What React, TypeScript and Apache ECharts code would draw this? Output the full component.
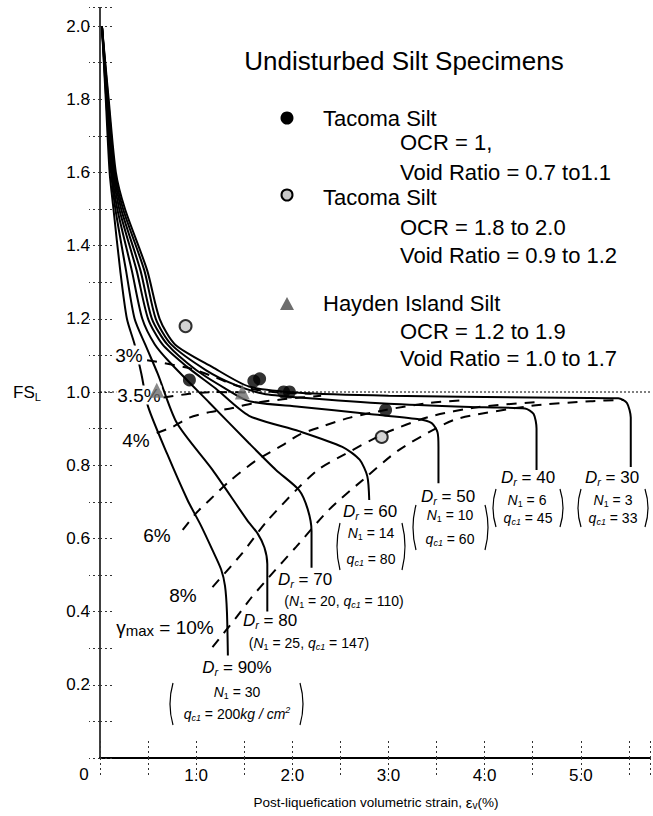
import React, { useEffect, useRef } from 'react';
import * as echarts from 'echarts';

// ---------- data ----------
const X_MAX = 5.72;
const Y_MAX = 2.05;

const dr90 = [[0.02,2.0],[0.06,1.8],[0.10,1.6],[0.14,1.5],[0.21,1.333],[0.28,1.2],[0.36,1.13],[0.43,1.05],[0.50,0.96],[0.70,0.83],[0.91,0.705],[1.05,0.635],[1.17,0.568],[1.26,0.515],[1.30,0.47],[1.32,0.40],[1.33,0.28]];
const dr80 = [[0.02,2.0],[0.065,1.8],[0.115,1.6],[0.16,1.5],[0.27,1.333],[0.36,1.2],[0.47,1.13],[0.60,1.05],[0.80,0.915],[1.17,0.787],[1.53,0.65],[1.64,0.613],[1.71,0.575],[1.74,0.53],[1.74,0.40]];
const dr70 = [[0.02,2.0],[0.07,1.8],[0.125,1.6],[0.18,1.5],[0.33,1.333],[0.44,1.2],[0.57,1.13],[0.73,1.08],[1.14,0.97],[1.55,0.86],[1.83,0.787],[2.07,0.732],[2.16,0.68],[2.2,0.62],[2.2,0.52]];
const dr60 = [[0.02,2.0],[0.075,1.8],[0.135,1.6],[0.20,1.5],[0.38,1.333],[0.50,1.2],[0.65,1.13],[0.90,1.07],[1.2,1.01],[1.55,0.935],[2.07,0.893],[2.52,0.85],[2.70,0.815],[2.78,0.77],[2.80,0.705]];
const dr50 = [[0.02,2.0],[0.08,1.8],[0.145,1.6],[0.22,1.5],[0.42,1.333],[0.54,1.2],[0.70,1.13],[1.0,1.06],[1.3,1.01],[1.55,0.975],[2.07,0.96],[2.8,0.94],[3.3,0.926],[3.45,0.915],[3.51,0.89],[3.52,0.85],[3.52,0.751]];
const dr40 = [[0.02,2.0],[0.085,1.8],[0.155,1.6],[0.24,1.5],[0.46,1.333],[0.58,1.2],[0.74,1.13],[1.1,1.06],[1.4,1.02],[1.7,0.995],[2.07,0.985],[3.0,0.968],[4.0,0.958],[4.42,0.955],[4.51,0.94],[4.54,0.90],[4.54,0.787]];
const dr30 = [[0.02,2.0],[0.09,1.8],[0.165,1.6],[0.26,1.5],[0.49,1.333],[0.62,1.2],[0.78,1.13],[1.17,1.068],[1.55,1.015],[2.07,0.998],[3.0,0.99],[4.5,0.985],[5.39,0.983],[5.48,0.97],[5.52,0.93],[5.52,0.795]];

const gamma3 = [[0.49,1.087],[0.93,1.065],[1.2,1.04],[1.45,1.015],[1.8,1.0],[2.2,0.995]];
const gamma35 = [[0.66,0.985],[0.93,0.995],[1.2,1.0],[1.6,0.998]];
const gamma4 = [[0.59,0.888],[0.75,0.904],[0.93,0.93],[1.14,0.945],[1.38,0.956],[1.6,0.97],[1.9,0.98],[2.3,0.99]];
const gamma6 = [[0.86,0.623],[1.0,0.669],[1.14,0.705],[1.35,0.757],[1.63,0.814],[1.9,0.855],[2.07,0.883],[2.3,0.905],[2.6,0.93],[2.97,0.951],[3.42,0.97],[3.8,0.978]];
const gamma8 = [[1.17,0.467],[1.48,0.56],[1.73,0.645],[2.07,0.74],[2.28,0.79],[2.49,0.822],[2.97,0.888],[3.42,0.932],[3.94,0.959],[4.53,0.972]];
const gamma10 = [[1.17,0.303],[1.42,0.385],[1.58,0.44],[1.76,0.495],[2.04,0.577],[2.38,0.678],[2.77,0.768],[3.1,0.84],[3.49,0.9],[3.73,0.928],[4.48,0.962],[5.1,0.975],[5.45,0.978]];

const fsOne = [[0, 1.0], [X_MAX, 1.0]];

const tacomaOCR1 = [[0.93,1.033],[1.6,1.03],[1.66,1.036],[1.91,1.0],[1.97,1.0],[2.97,0.951]];
const tacomaOCR18 = [[0.89,1.18],[2.93,0.877]];
const haydenIsland = [[0.59,1.005],[1.48,1.0]];

const legendTitle = 'Undisturbed Silt Specimens';
const legendLines = [
  'Tacoma Silt', 'OCR = 1,', 'Void Ratio = 0.7 to1.1',
  'Tacoma Silt', 'OCR = 1.8 to 2.0', 'Void Ratio = 0.9 to 1.2',
  'Hayden Island Silt', 'OCR = 1.2 to 1.9', 'Void Ratio = 1.0 to 1.7',
];
const drLabels = ['90%', '80', '70', '60', '50', '40', '30'];
const n1Labels = ['30', '25', '20', '14', '10', '6', '3'];
const qc1Labels = ['200', '147', '110', '80', '60', '45', '33'];
const gammaLabels = ['3%', '3.5%', '4%', '6%', '8%', '10%'];

const FONT = '"Liberation Sans", Arial, Helvetica, sans-serif';

function solid(data: number[][]) {
  return { type: 'line', data, showSymbol: false, smooth: 0.25, lineStyle: { color: '#000', width: 2 }, z: 3, silent: true };
}
function dashed(data: number[][]) {
  return { type: 'line', data, showSymbol: false, smooth: 0.25, lineStyle: { color: '#000', width: 2, type: [10, 8] }, z: 3, silent: true };
}

const sub = { fontSize: 11, fontFamily: FONT, fill: '#000', verticalAlign: 'bottom', lineHeight: 12, fontStyle: 'italic' };

function txt(text: string, x: number, y: number, size: number, align = 'left', extra: any = {}) {
  return { type: 'text', x, y, style: { text, fontSize: size, fontFamily: FONT, fill: '#000', align, verticalAlign: 'middle', ...extra }, z: 10 };
}
function rtxt(text: string, x: number, y: number, rich: any, align = 'center') {
  return { type: 'text', x, y, style: { text, align, verticalAlign: 'middle', rich, fontFamily: FONT, fill: '#000' }, z: 10 };
}
const whiteBg = { backgroundColor: '#fff', padding: [0, 1] };
const drRich = {
  d: { fontSize: 17, fontStyle: 'italic', fontFamily: FONT, fill: '#000', lineHeight: 20 },
  s: { ...sub, fontSize: 11, lineHeight: 13 },
  n: { fontSize: 17, fontFamily: FONT, fill: '#000', lineHeight: 20 },
};
const nRich = {
  d: { fontSize: 14, fontStyle: 'italic', fontFamily: FONT, fill: '#000', lineHeight: 17 },
  s: { ...sub, fontSize: 9, lineHeight: 11, fontStyle: 'normal' },
  si: { ...sub, fontSize: 9, lineHeight: 11 },
  n: { fontSize: 14, fontFamily: FONT, fill: '#000', lineHeight: 17 },
  i: { fontSize: 14, fontStyle: 'italic', fontFamily: FONT, fill: '#000', lineHeight: 17 },
  sup: { fontSize: 9, fontStyle: 'italic', fontFamily: FONT, fill: '#000', verticalAlign: 'top', lineHeight: 11 },
};
function paren(xl: number, xr: number, yt: number, yb: number) {
  const mid = (yt + yb) / 2;
  const st = { stroke: '#000', lineWidth: 1.2, fill: 'none' };
  return [
    { type: 'bezierCurve', shape: { x1: xl + 3, y1: yt, cpx1: xl - 3, cpy1: mid, x2: xl + 3, y2: yb }, style: st, z: 10 },
    { type: 'bezierCurve', shape: { x1: xr - 3, y1: yt, cpx1: xr + 3, cpy1: mid, x2: xr - 3, y2: yb }, style: st, z: 10 },
  ];
}
const drText = (v: string) => `{d|D}{s|r}{n| = ${v}}`;
const nText = (v: string) => `{d|N}{s|1}{n| = ${v}}`;
const qText = (v: string) => `{d|q}{si|c1}{n| = ${v}}`;

export default function App() {
  const ref = useRef<HTMLDivElement>(null);
  useEffect(() => {
    if (!ref.current) return;
    const chart = echarts.init(ref.current, undefined, { renderer: 'svg' });
    const tickStyle = { color: '#333', width: 1, type: [2, 3] as any };
    const graphic: any[] = [
      txt(legendTitle, 404, 61, 26, 'center'),
      { type: 'circle', shape: { cx: 287, cy: 118, r: 6.5 }, style: { fill: '#000' }, z: 10 },
      txt(legendLines[0], 323, 118, 22),
      txt(legendLines[1], 400, 142, 22),
      txt(legendLines[2], 400, 172, 22),
      { type: 'circle', shape: { cx: 287, cy: 195, r: 5.5 }, style: { fill: '#c8c8c8', stroke: '#000', lineWidth: 2 }, z: 10 },
      txt(legendLines[3], 323, 197, 22),
      txt(legendLines[4], 400, 227, 22),
      txt(legendLines[5], 400, 255, 22),
      { type: 'polygon', shape: { points: [[287, 297], [280, 310], [294, 310]] }, style: { fill: '#6e6e6e' }, z: 10 },
      txt(legendLines[6], 323, 303, 22),
      txt(legendLines[7], 400, 331, 22),
      txt(legendLines[8], 400, 358, 22),
      // gamma labels
      txt(gammaLabels[0], 129, 355, 19, 'center', whiteBg),
      txt(gammaLabels[1], 139, 395, 19, 'center', whiteBg),
      txt(gammaLabels[2], 136, 440, 19, 'center', whiteBg),
      txt(gammaLabels[3], 157, 535, 19, 'center', whiteBg),
      txt(gammaLabels[4], 183, 595, 19, 'center', whiteBg),
      rtxt(`{g|γ}{m|max}{n| = ${gammaLabels[5]}}`, 165, 627, {
        g: { fontSize: 19, fontFamily: FONT, fill: '#000', lineHeight: 22 },
        m: { fontSize: 15, fontFamily: FONT, fill: '#000', verticalAlign: 'bottom', lineHeight: 16 },
        n: { fontSize: 19, fontFamily: FONT, fill: '#000', lineHeight: 22 },
      }),
      // Dr labels
      rtxt(drText(drLabels[0]), 237, 667, drRich),
      rtxt(nText(n1Labels[0]), 237, 692, nRich),
      rtxt(`{d|q}{si|c1}{n| = ${qc1Labels[0]}}{i|kg / cm}{sup|2}`, 237, 714, nRich),
      ...paren(170, 303, 683, 725),
      rtxt(drText(drLabels[1]), 270, 620, drRich),
      rtxt(`{n|(}{d|N}{s|1}{n| = ${n1Labels[1]}, }{d|q}{si|c1}{n| = ${qc1Labels[1]})}`, 309, 643, nRich),
      rtxt(drText(drLabels[2]), 305, 579, drRich),
      rtxt(`{n|(}{d|N}{s|1}{n| = ${n1Labels[2]}, }{d|q}{si|c1}{n| = ${qc1Labels[2]})}`, 344, 601, nRich),
      rtxt(drText(drLabels[3]), 370, 511, drRich),
      rtxt(nText(n1Labels[3]), 371, 533, nRich),
      rtxt(qText(qc1Labels[3]), 371, 559, nRich),
      ...paren(337, 405, 523, 570),
      rtxt(drText(drLabels[4]), 448, 496, drRich),
      rtxt(nText(n1Labels[4]), 450, 515, nRich),
      rtxt(qText(qc1Labels[4]), 450, 539, nRich),
      ...paren(413, 488, 505, 550),
      rtxt(drText(drLabels[5]), 528, 477, drRich),
      rtxt(nText(n1Labels[5]), 527, 500, nRich),
      rtxt(qText(qc1Labels[5]), 528, 518, nRich),
      ...paren(493, 563, 489, 527),
      rtxt(drText(drLabels[6]), 612, 477, drRich),
      rtxt(nText(n1Labels[6]), 613, 500, nRich),
      rtxt(qText(qc1Labels[6]), 613, 518, nRich),
      ...paren(578, 648, 489, 527),
      // axis texts
      rtxt('{a|FS}{b|L}', 27, 392, {
        a: { fontSize: 17, fontFamily: FONT, fill: '#000', lineHeight: 20 },
        b: { fontSize: 11, fontFamily: FONT, fill: '#000', verticalAlign: 'bottom', lineHeight: 12 },
      }),
      txt('0', 84, 774, 17, 'center'),
      rtxt('{a|Post-liquefication volumetric strain, }{e|ε}{b|v}{a|(%)}', 376, 802, {
        a: { fontSize: 13.5, fontFamily: FONT, fill: '#000', lineHeight: 16 },
        e: { fontSize: 15, fontFamily: FONT, fill: '#000', lineHeight: 16 },
        b: { fontSize: 10, fontFamily: FONT, fill: '#000', verticalAlign: 'bottom', lineHeight: 11 },
      }),
    ];

    chart.setOption({
      animation: false,
      backgroundColor: '#fff',
      grid: { left: 100, right: 0.7, top: 7.7, bottom: 58, containLabel: false },
      xAxis: [
        {
          type: 'value', min: 0, max: X_MAX, interval: 0.5, position: 'bottom',
          axisLine: { show: true, lineStyle: { color: '#000', width: 2 } },
          axisTick: { show: true, inside: true, length: 18, lineStyle: tickStyle },
          axisLabel: {
            margin: 9, fontSize: 17, color: '#000', fontFamily: FONT,
            formatter: (v: number) => (v > 0.01 && Math.abs(v - Math.round(v)) < 1e-6 && v < 5.5) ? v.toFixed(1) : '',
          },
          splitLine: { show: false },
        },
        {
          type: 'value', min: 0, max: X_MAX, interval: 0.5, position: 'top',
          axisLine: { show: true, lineStyle: { color: '#000', width: 1.5 } },
          axisTick: { show: true, inside: true, length: 17, lineStyle: tickStyle },
          axisLabel: { show: false }, splitLine: { show: false },
        },
      ],
      yAxis: [
        {
          type: 'value', min: 0, max: Y_MAX, interval: 0.1, position: 'left',
          axisLine: { show: true, lineStyle: { color: '#000', width: 1.5 } },
          axisTick: { show: true, inside: true, length: 14, lineStyle: tickStyle },
          axisLabel: {
            margin: 10, fontSize: 17, color: '#000', fontFamily: FONT,
            formatter: (v: number) => { const k = Math.round(v * 10); return (k > 0 && k % 2 === 0 && k <= 20) ? (k / 10).toFixed(1) : ''; },
          },
          splitLine: { show: false },
        },
        {
          type: 'value', min: 0, max: Y_MAX, interval: 0.1, position: 'right',
          axisLine: { show: false },
          axisTick: { show: true, inside: true, length: 11, lineStyle: tickStyle },
          axisLabel: { show: false }, splitLine: { show: false },
        },
      ],
      series: [
        { type: 'line', data: fsOne, showSymbol: false, lineStyle: { color: '#000', width: 1.2, type: [2, 2] }, z: 2, silent: true },
        solid(dr90), solid(dr80), solid(dr70), solid(dr60), solid(dr50), solid(dr40), solid(dr30),
        dashed(gamma3), dashed(gamma35), dashed(gamma4), dashed(gamma6), dashed(gamma8), dashed(gamma10),
        { type: 'scatter', data: tacomaOCR1, symbol: 'circle', symbolSize: 13, itemStyle: { color: '#000' }, z: 12, silent: true },
        { type: 'scatter', data: tacomaOCR18, symbol: 'circle', symbolSize: 12, itemStyle: { color: '#c8c8c8', borderColor: '#000', borderWidth: 2 }, z: 12, silent: true },
        { type: 'scatter', data: haydenIsland, symbol: 'triangle', symbolSize: 15, itemStyle: { color: '#6e6e6e' }, z: 12, silent: true },
      ],
      graphic,
    });
    return () => chart.dispose();
  }, []);
  return <div ref={ref} style={{ position: 'fixed', left: 0, top: 0, width: 653, height: 816, background: '#fff' }} />;
}
